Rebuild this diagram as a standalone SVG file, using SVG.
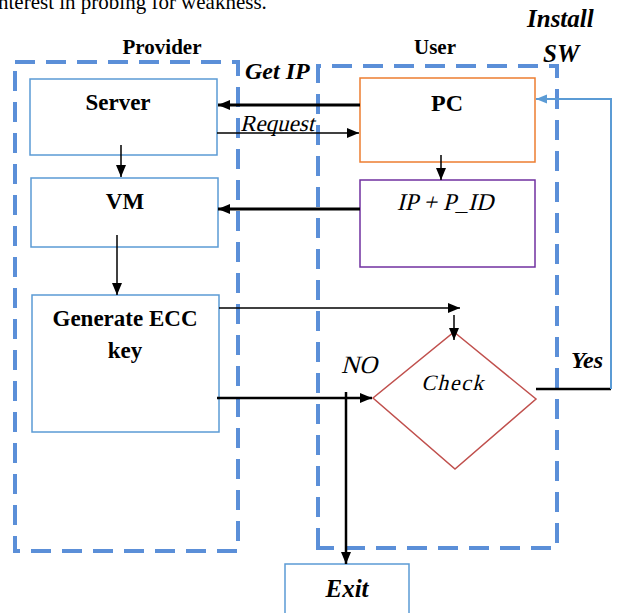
<svg xmlns="http://www.w3.org/2000/svg" width="617" height="613" viewBox="0 0 617 613">
<style>
.lane{fill:none;stroke:#5B8FD8;stroke-width:4;stroke-dasharray:20 11}
.bx{fill:#fff;stroke:#5B9BD5;stroke-width:1.5}
.t{font-family:"Liberation Serif","Times New Roman",serif;fill:#000}
.b{font-weight:bold}
.bi{font-weight:bold;font-style:italic}
.ln{stroke:#000;fill:none}
</style>
<defs>
<marker id="ah" viewBox="0 0 12 10" refX="12" refY="5" markerWidth="12" markerHeight="10" orient="auto" markerUnits="userSpaceOnUse">
<path d="M0,0 L12,5 L0,10 z" fill="#000"/>
</marker>
<marker id="ahb" viewBox="0 0 12 10" refX="12" refY="5" markerWidth="11" markerHeight="10" orient="auto" markerUnits="userSpaceOnUse">
<path d="M0,0 L12,5 L0,10 z" fill="#5B9BD5"/>
</marker>
</defs>
<rect width="617" height="613" fill="#fff"/>
<text class="t" x="-2" y="9" font-size="21">nterest in probing for weakness.</text>

<g id="provider-lane">
<rect class="lane" x="15" y="62" width="223" height="489"/>
<text class="t b" x="162" y="54" font-size="21" text-anchor="middle">Provider</text>
</g>
<g id="user-lane">
<path class="lane" d="M318,548 L318,66 L557,66 L557,548 Z"/>
<text class="t b" x="435" y="54" font-size="21" text-anchor="middle">User</text>
</g>

<g id="server"><rect class="bx" x="30" y="79" width="187" height="76"/><text class="t b" x="118" y="110" font-size="23" text-anchor="middle">Server</text></g>
<g id="vm"><rect class="bx" x="31" y="178" width="187" height="69"/><text class="t b" x="125" y="209" font-size="23" text-anchor="middle">VM</text></g>
<g id="ecc"><rect class="bx" x="32" y="295" width="187" height="137"/><text class="t b" x="125" y="326" font-size="23" text-anchor="middle">Generate ECC</text><text class="t b" x="125" y="358" font-size="23" text-anchor="middle">key</text></g>
<g id="pc"><rect x="360" y="78" width="175" height="84" fill="#fff" stroke="#ED7D31" stroke-width="1.5"/><text class="t b" x="447" y="111" font-size="24" text-anchor="middle">PC</text></g>
<g id="ipid"><rect x="360" y="180" width="175" height="87" fill="#fff" stroke="#7030A0" stroke-width="1.5"/><text class="t" transform="translate(445,210) skewX(-14)" font-size="24" text-anchor="middle">IP + P_ID</text></g>
<g id="check"><polygon points="454,332 536,399 455,469 373,398" fill="#fff" stroke="#C0504D" stroke-width="1.5"/><text class="t" transform="translate(453,390) skewX(-14)" font-size="22" text-anchor="middle" letter-spacing="1.5">Check</text></g>
<g id="exit"><rect class="bx" x="285" y="564" width="124" height="60"/><text class="t bi" x="347" y="597" font-size="25" text-anchor="middle">Exit</text></g>

<g id="connectors">
<line class="ln" x1="360" y1="105" x2="218" y2="105" stroke-width="3" marker-end="url(#ah)"/>
<line class="ln" x1="217" y1="133" x2="359" y2="133" stroke-width="1.5" marker-end="url(#ah)"/>
<line class="ln" x1="121" y1="145" x2="121" y2="177" stroke-width="1.5" marker-end="url(#ah)"/>
<line class="ln" x1="441" y1="155" x2="441" y2="180" stroke-width="1.5" marker-end="url(#ah)"/>
<line class="ln" x1="360" y1="209" x2="218" y2="209" stroke-width="3" marker-end="url(#ah)"/>
<line class="ln" x1="117" y1="235" x2="117" y2="295" stroke-width="1.5" marker-end="url(#ah)"/>
<line class="ln" x1="219" y1="308" x2="460" y2="308" stroke-width="1.5" marker-end="url(#ah)"/>
<line class="ln" x1="454" y1="315" x2="454" y2="340" stroke-width="1.5" marker-end="url(#ah)"/>
<line class="ln" x1="217" y1="398" x2="372" y2="398" stroke-width="2.5" marker-end="url(#ah)"/>
<line class="ln" x1="346" y1="392" x2="346" y2="564" stroke-width="2.5" marker-end="url(#ah)"/>
<line class="ln" x1="536" y1="389" x2="611" y2="389" stroke-width="2.5"/>
<path d="M611,389 L611,99 L536,99" fill="none" stroke="#5B9BD5" stroke-width="2" marker-end="url(#ahb)"/>
<text class="t bi" x="245" y="79" font-size="24">Get IP</text>
<text class="t" transform="translate(240,131) skewX(-14)" font-size="23">Request</text>
<text class="t" transform="translate(341,373) skewX(-14)" font-size="25">NO</text>
<text class="t bi" x="571" y="368" font-size="24">Yes</text>
<text class="t bi" x="527" y="27" font-size="25">Install</text>
<text class="t bi" x="543" y="62" font-size="25">SW</text>
</g>
</svg>
